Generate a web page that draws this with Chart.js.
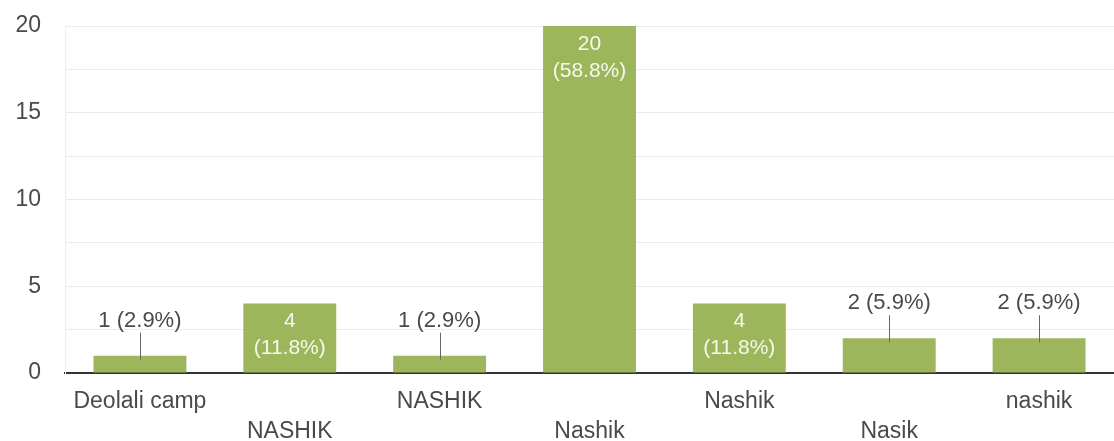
<!DOCTYPE html>
<html>
<head>
<meta charset="utf-8">
<style>
  html, body { margin: 0; padding: 0; background: #ffffff; }
  #wrap { width: 1114px; height: 441px; position: relative; }
</style>
<script src="https://cdn.jsdelivr.net/npm/chart.js@4/dist/chart.umd.min.js"></script>
</head>
<body>
<div id="wrap"><canvas id="chart" width="1114" height="441"></canvas></div>
<script>
// Responses per city name (as typed)
const categories = ['Deolali camp', 'NASHIK', 'NASHIK ', 'Nashik', 'Nashik ', 'Nasik', 'nashik'];
const counts = [1, 4, 1, 20, 4, 2, 2];
const yTicks = [0, 5, 10, 15, 20];

const total = counts.reduce((a, b) => a + b, 0);
const FONT = '"Liberation Sans", Arial, sans-serif';
const BAR = '#9db55b';

// Count + percentage labels: inside tall bars, above short ones with a leader line
const valueLabels = {
  id: 'valueLabels',
  afterDatasetsDraw(chart) {
    const ctx = chart.ctx;
    const meta = chart.getDatasetMeta(0);
    ctx.save();
    ctx.textAlign = 'center';
    ctx.textBaseline = 'middle';
    meta.data.forEach((bar, i) => {
      const v = counts[i];
      const pct = (v / total * 100).toFixed(1) + '%';
      const h = bar.base - bar.y;
      if (h > 55) {
        ctx.font = '21px ' + FONT;
        ctx.fillStyle = '#f6f9ec';
        ctx.fillText(String(v), bar.x, bar.y + 18);
        ctx.fillText('(' + pct + ')', bar.x, bar.y + 45);
      } else {
        const ty = bar.y - 35;
        ctx.font = '22px ' + FONT;
        ctx.fillStyle = '#4a4a4a';
        ctx.fillText(v + ' (' + pct + ')', bar.x, ty);
        ctx.strokeStyle = '#666666';
        ctx.lineWidth = 1;
        ctx.beginPath();
        ctx.moveTo(Math.round(bar.x) + 0.5, ty + 12);
        ctx.lineTo(Math.round(bar.x) + 0.5, bar.y + 4);
        ctx.stroke();
      }
    });
    ctx.restore();
  }
};

new Chart(document.getElementById('chart'), {
  type: 'bar',
  data: {
    labels: categories,
    datasets: [{
      data: counts,
      backgroundColor: BAR,
      borderWidth: 0,
      barPercentage: 0.62,
      categoryPercentage: 1.0
    }]
  },
  options: {
    responsive: false,
    animation: false,
    events: [],
    layout: { padding: { left: 0, right: 0, top: 26, bottom: 0 } },
    plugins: { legend: { display: false }, tooltip: { enabled: false } },
    scales: {
      x: {
        grid: { display: false, drawTicks: false },
        border: { display: true, color: '#333333', width: 2 },
        ticks: {
          autoSkip: false,
          maxRotation: 0,
          padding: 14,
          color: '#4a4a4a',
          font: { family: FONT, size: 23, lineHeight: 1.3 },
          callback: (v, i) => (i % 2 === 0 ? [categories[i].trim()] : ['', categories[i].trim()])
        },
        afterFit: (s) => { s.height = 68; s.paddingLeft = 0; s.paddingRight = 0; }
      },
      y: {
        min: 0,
        max: 20,
        grid: { color: '#ebebeb', drawTicks: false },
        border: { display: true, color: '#eeeeee', width: 1 },
        ticks: {
          stepSize: 2.5,
          padding: 24,
          color: '#4a4a4a',
          font: { family: FONT, size: 23 },
          callback: (v) => (yTicks.includes(v) ? String(v) : '')
        },
        afterFit: (s) => { s.width = 65; s.paddingTop = 0; s.paddingBottom = 0; }
      }
    }
  },
  plugins: [valueLabels]
});
</script>
</body>
</html>
